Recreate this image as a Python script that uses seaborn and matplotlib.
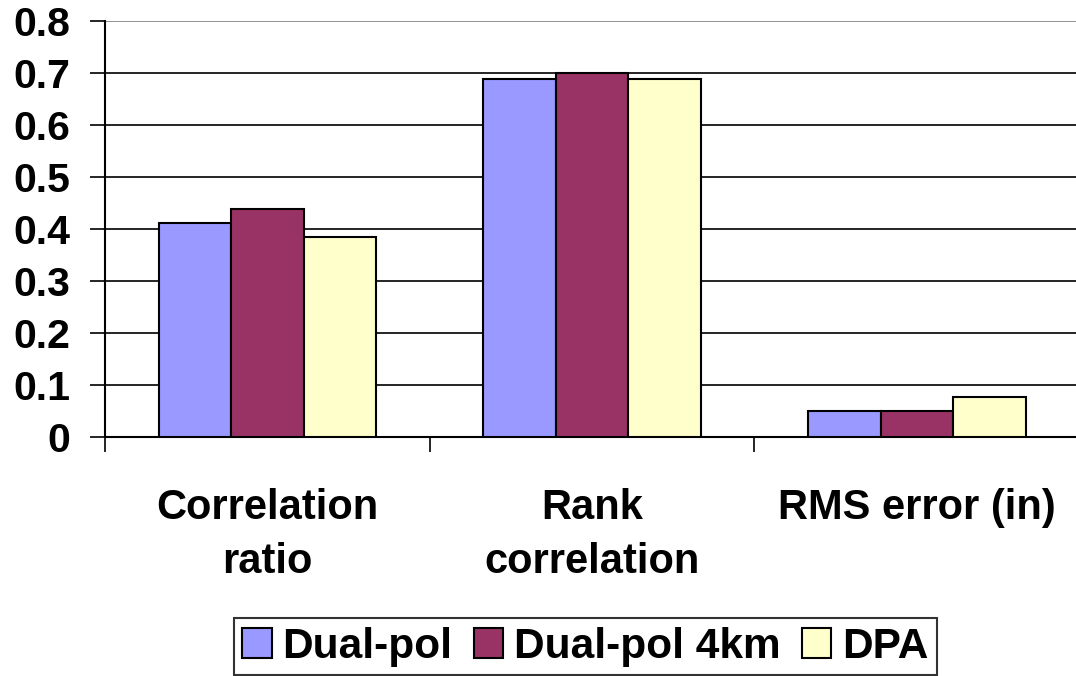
import matplotlib
matplotlib.use("Agg")
import matplotlib.pyplot as plt
import seaborn as sns
import pandas as pd
from matplotlib.ticker import FixedLocator

categories = ["Correlation\nratio", "Rank\ncorrelation", "RMS error (in)"]
series_names = ["Dual-pol", "Dual-pol 4km", "DPA"]
dual_pol = [0.411, 0.689, 0.049]
dual_pol_4km = [0.438, 0.700, 0.049]
dpa = [0.384, 0.689, 0.077]
y_ticks = [0, 0.1, 0.2, 0.3, 0.4, 0.5, 0.6, 0.7, 0.8]
y_tick_labels = ["0", "0.1", "0.2", "0.3", "0.4", "0.5", "0.6", "0.7", "0.8"]
colors = ["#9999FF", "#993366", "#FFFFCC"]

rows = []
for name, vals in zip(series_names, [dual_pol, dual_pol_4km, dpa]):
    for c, v in zip(categories, vals):
        rows.append({"category": c, "series": name, "value": v})
df = pd.DataFrame(rows)

sns.set_theme(style="white")
plt.rcParams["font.family"] = ["Liberation Sans", "DejaVu Sans"]
plt.rcParams["font.weight"] = "bold"
for k in ["text.color", "axes.labelcolor", "xtick.color", "ytick.color"]:
    plt.rcParams[k] = "black"

fig = plt.figure(figsize=(10.76, 6.76), dpi=100)
ax = fig.add_axes([0.0976, 0.3536, 0.9054, 0.969 - 0.3536])

sns.barplot(data=df, x="category", y="value", hue="series", order=categories,
            hue_order=series_names, palette=colors, width=0.67,
            edgecolor="black", linewidth=1.5, saturation=1, ax=ax, zorder=3)

ax.set_ylim(0, 0.8)
ax.set_xlim(-0.5, 2.5)
ax.set_yticks(y_ticks)
ax.set_yticklabels(y_tick_labels, fontsize=29.5, fontweight="bold")
ax.tick_params(axis="y", length=11, width=1.2, color="black", pad=14, left=True)
ax.yaxis.grid(True, color="black", linewidth=1.2)
ax.set_axisbelow(True)
gl = ax.yaxis.get_gridlines()
gl[-1].set_color("#808080")

ax.set_xticks(range(len(categories)))
ax.set_xticklabels(categories, fontsize=30, fontweight="bold", linespacing=1.45)
ax.tick_params(axis="x", which="major", length=0, pad=37)
ax.xaxis.set_minor_locator(FixedLocator([-0.5, 0.5, 1.5, 2.5]))
ax.tick_params(axis="x", which="minor", length=11, width=1.2, color="black", bottom=True)

ax.set_xlabel("")
ax.set_ylabel("")
for s in ["top", "right"]:
    ax.spines[s].set_visible(False)
ax.spines["left"].set_color("black")
ax.spines["left"].set_linewidth(1.5)
ax.spines["bottom"].set_color("black")
ax.spines["bottom"].set_linewidth(1.5)

handles, labels = ax.get_legend_handles_labels()
ax.legend_.remove()
leg = fig.legend(handles, labels, loc="center", bbox_to_anchor=(0.544, 0.043),
                 ncol=3, frameon=True, fancybox=False, edgecolor="black",
                 prop={"size": 30.5, "weight": "bold"}, handlelength=0.7,
                 handleheight=0.7, handletextpad=0.25, columnspacing=0.5,
                 borderpad=0.2, borderaxespad=0)
leg.get_frame().set_linewidth(1.5)

fig.savefig("out.png", dpi=100)
